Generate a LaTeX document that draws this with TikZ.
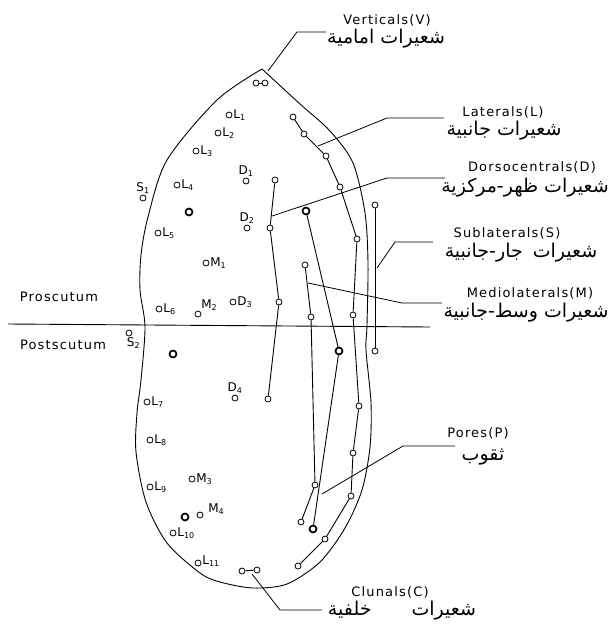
\documentclass[tikz,border=0pt]{standalone}
\usepackage{fontspec}
\setmainfont{DejaVu Sans}
\newfontfamily\namefont[LetterSpace=9]{DejaVu Sans}
\newfontfamily\arabicfont[Script=Arabic]{DejaVu Sans}
\TeXXeTstate=1
\tikzset{
  bristle/.style={circle,draw=black,fill=white,inner sep=0pt,minimum size=6pt,line width=0.8pt},
  pore/.style={circle,draw=black,fill=white,inner sep=0pt,minimum size=7pt,line width=1.7pt},
  tag/.style={inner sep=0.5pt,font=\fontsize{12}{13}\selectfont},
  ename/.style={inner sep=0pt,font=\namefont\fontsize{13}{15}\selectfont},
  aname/.style={inner sep=0pt,font=\arabicfont\fontsize{19}{21}\selectfont},
  leader/.style={line width=0.8pt},
}
\newcommand{\artext}[1]{\beginR #1\endR}

\begin{document}
\begin{tikzpicture}[x=1pt,y=-1pt,line width=0.9pt]
  \useasboundingbox (0,0) rectangle (614,629);

  % scutum outline, pointed in front
  \draw plot[smooth] coordinates {(262,69) (300,104) (330,131) (353,163) (365,213)
    (368,263) (367,325) (366,350) (371,403) (370,447) (362,490) (345,528)
    (320,562) (287,584) (253,588) (220,582) (200,573) (167,543) (146,502)
    (136,452) (137,413) (141,380) (145,327) (140,290) (141,255) (148,217)
    (167,160) (217,100) (262,69)};
  % transverse suture
  \draw (8,324) -- (430,327);
  \node[ename] (pro) at (59,297) {Proscutum};
  \node[ename] (post) at (63,345) {Postscutum};

  % verticals
  \node[bristle] (v1) at (256,83) {}; \node[bristle] (v2) at (265,83) {};
  \draw (v1) -- (v2);
  % laterals
  \node[bristle] (la1) at (293,117) {}; \node[bristle] (la2) at (304,134) {};
  \node[bristle] (la3) at (326,156) {}; \node[bristle] (la4) at (340,187) {};
  \node[bristle] (la5) at (357,239) {}; \node[bristle] (la6) at (353,315) {};
  \node[bristle] (la7) at (359,406) {}; \node[bristle] (la8) at (353,453) {};
  \node[bristle] (la9) at (351,496) {}; \node[bristle] (la10) at (325,539) {};
  \node[bristle] (la11) at (298,566) {};
  \draw (la1) -- (la2) -- (la3) -- (la4) -- (la5) -- (la6) -- (la7) -- (la8)
    -- (la9) -- (la10) -- (la11);
  % dorsocentrals
  \node[bristle] (dc1) at (275,180) {}; \node[bristle] (dc2) at (270,228) {};
  \node[bristle] (dc3) at (279,302) {}; \node[bristle] (dc4) at (268,399) {};
  \draw (dc1) -- (dc2) -- (dc3) -- (dc4);
  % sublaterals
  \node[bristle] (sl1) at (375,205) {}; \node[bristle] (sl2) at (375,351) {};
  \draw (sl1) -- (sl2);
  % mediolaterals
  \node[bristle] (ml1) at (305,265) {}; \node[bristle] (ml2) at (311,317) {};
  \node[bristle] (ml3) at (315,485) {}; \node[bristle] (ml4) at (301,522) {};
  \draw (ml1) -- (ml2) -- (ml3) -- (ml4);
  % pores
  \node[pore] (p1) at (306,211) {}; \node[pore] (p2) at (339,351) {};
  \node[pore] (p3) at (313,529) {};
  \draw (p1) -- (p2) -- (p3);
  \node[pore] (p4) at (189,212) {}; \node[pore] (p5) at (173,354) {};
  \node[pore] (p6) at (185,517) {};
  % clunals
  \node[bristle] (c1) at (242,571) {}; \node[bristle] (c2) at (257,570) {};
  \draw (c1) -- (c2);

  % single bristles with their tags
  \node[bristle] (l1) at (229,115) {}; \node[tag,right] (l1t) at (l1.east) {L\textsubscript{1}};
  \node[bristle] (l2) at (218,133) {}; \node[tag,right] (l2t) at (l2.east) {L\textsubscript{2}};
  \node[bristle] (l3) at (196,151) {}; \node[tag,right] (l3t) at (l3.east) {L\textsubscript{3}};
  \node[bristle] (l4) at (177,185) {}; \node[tag,right] (l4t) at (l4.east) {L\textsubscript{4}};
  \node[bristle] (l5) at (158,233) {}; \node[tag,right] (l5t) at (l5.east) {L\textsubscript{5}};
  \node[bristle] (l6) at (159,309) {}; \node[tag,right] (l6t) at (l6.east) {L\textsubscript{6}};
  \node[bristle] (l7) at (147,402) {}; \node[tag,right] (l7t) at (l7.east) {L\textsubscript{7}};
  \node[bristle] (l8) at (150,440) {}; \node[tag,right] (l8t) at (l8.east) {L\textsubscript{8}};
  \node[bristle] (l9) at (150,487) {}; \node[tag,right] (l9t) at (l9.east) {L\textsubscript{9}};
  \node[bristle] (l10) at (173,533) {}; \node[tag,right] (l10t) at (l10.east) {L\textsubscript{10}};
  \node[bristle] (l11) at (198,563) {}; \node[tag,right,yshift=2pt] (l11t) at (l11.east) {L\textsubscript{11}};
  \node[bristle] (d1) at (246,181) {}; \node[tag,above] (d1t) at (d1.north) {D\textsubscript{1}};
  \node[bristle] (d2) at (247,228) {}; \node[tag,above] (d2t) at (d2.north) {D\textsubscript{2}};
  \node[bristle] (d3) at (233,302) {}; \node[tag,right] (d3t) at (d3.east) {D\textsubscript{3}};
  \node[bristle] (d4) at (235,398) {}; \node[tag,above] (d4t) at (d4.north) {D\textsubscript{4}};
  \node[bristle] (m1) at (206,263) {}; \node[tag,right] (m1t) at (m1.east) {M\textsubscript{1}};
  \node[bristle] (m2) at (198,314) {}; \node[tag,above right] (m2t) at (m2.north east) {M\textsubscript{2}};
  \node[bristle] (m3) at (192,479) {}; \node[tag,right] (m3t) at (m3.east) {M\textsubscript{3}};
  \node[bristle] (m4) at (200,515) {}; \node[tag,above right] (m4t) at ([xshift=4pt]m4.east) {M\textsubscript{4}};
  \node[bristle] (s1) at (143,198) {}; \node[tag,above] (s1t) at (s1.north) {S\textsubscript{1}};
  \node[bristle] (s2) at (129,333) {}; \node[tag,below right,xshift=-3pt] (s2t) at (s2.south) {S\textsubscript{2}};

  % names, english over arabic
  \node[ename] (vname) at (387,20) {Verticals(V)};
  \node[aname] (varab) at (386,39) {\artext{شعيرات امامية}};
  \node[ename] (lname) at (503,112) {Laterals(L)};
  \node[aname] (larab) at (504,131) {\artext{شعيرات جانبية}};
  \node[ename] (dname) at (532,167) {Dorsocentrals(D)};
  \node[aname] (darab) at (525,188) {\artext{شعيرات ظهر-مركزية}};
  \node[ename] (sname) at (507,233) {Sublaterals(S)};
  \node[aname] (sarab) at (521,253) {\artext{شعيرات\hspace{10pt}جار-جانبية}};
  \node[ename] (mname) at (530,293) {Mediolaterals(M)};
  \node[aname] (marab) at (526,313) {\artext{شعيرات وسط-جانبية}};
  \node[ename] (pname) at (478,433) {Pores(P)};
  \node[aname] (parab) at (483,457) {\artext{ثقوب}};
  \node[ename] (cname) at (390,592) {Clunals(C)};
  \node[aname] (carab) at (402,611) {\artext{شعيرات\hspace{40pt}خلفية}};

  % leader lines
  \coordinate (vtip) at (268,71); \coordinate (vbend) at (297,32); \coordinate (vend) at (326,32);
  \coordinate (ltip) at (318,146); \coordinate (lbend) at (387,118); \coordinate (lend) at (444,118);
  \coordinate (dtip) at (272,216); \coordinate (dbend) at (387,178); \coordinate (dend) at (445,178);
  \coordinate (stip) at (377,268); \coordinate (sbend) at (395,242); \coordinate (send) at (433,242);
  \coordinate (mtip) at (308,283); \coordinate (mbend) at (402,303); \coordinate (mend) at (442,303);
  \coordinate (ptip) at (322,494); \coordinate (pbend) at (403,446); \coordinate (pend) at (455,446);
  \coordinate (ctip) at (252,574); \coordinate (cbend) at (280,610); \coordinate (cend) at (322,610);
  \draw[leader] (vtip) -- (vbend) -- (vend);
  \draw[leader] (ltip) -- (lbend) -- (lend);
  \draw[leader] (dtip) -- (dbend) -- (dend);
  \draw[leader] (stip) -- (sbend) -- (send);
  \draw[leader] (mtip) -- (mbend) -- (mend);
  \draw[leader] (ptip) -- (pbend) -- (pend);
  \draw[leader] (ctip) -- (cbend) -- (cend);
\end{tikzpicture}
\end{document}
